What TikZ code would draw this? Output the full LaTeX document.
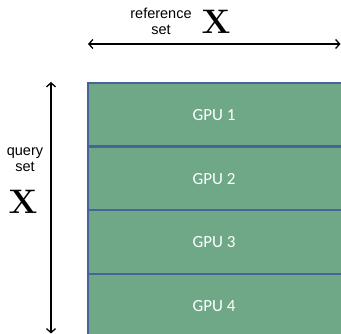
\documentclass[tikz,border=0pt]{standalone}
\usepackage[no-math]{fontspec}
\setmainfont{Liberation Sans}
\newfontfamily\gpufont{Carlito}
\newfontfamily\lmfont{Latin Modern Roman}
\usetikzlibrary{arrows.meta}
\definecolor{gpugreen}{RGB}{111,168,134}
\definecolor{gpublue}{RGB}{70,100,155}
\tikzset{
  gpubox/.style={draw=gpublue, line width=1.6pt, fill=gpugreen, minimum width=262pt, minimum height=63.5pt, anchor=north west, inner sep=0pt},
  gpulabel/.style={text=white, font=\gpufont\fontsize{17}{18}\selectfont},
  dimarrow/.style={line width=1.3pt, {Straight Barb[length=4pt,width=9pt]}-{Straight Barb[length=4pt,width=9pt]}},
  smalltext/.style={font=\fontsize{14.5}{16}\selectfont, align=center, inner sep=0pt},
  bigx/.style={font=\lmfont\bfseries\fontsize{34}{34}\selectfont, inner sep=0pt}
}
\begin{document}
\begin{tikzpicture}[x=1pt,y=-1pt]
\useasboundingbox (0,0) rectangle (341,334);
\begin{scope}
\clip (0,0) rectangle (341,334);
\node[gpubox] (g1) at (87,82) {};
\node[gpubox] (g2) at (87,146) {};
\node[gpubox] (g3) at (87,209.5) {};
\node[gpubox] (g4) at (87,273) {};
\end{scope}
\node[gpulabel] (l1) at (214,115) {GPU 1};
\node[gpulabel] (l2) at (214,179) {GPU 2};
\node[gpulabel] (l3) at (214,242) {GPU 3};
\node[gpulabel] (l4) at (214,306) {GPU 4};
\coordinate (hl) at (88,44);
\coordinate (hr) at (340.5,44);
\draw[dimarrow] (hl) -- (hr);
\coordinate (vt) at (51,82);
\coordinate (vb) at (51,333.5);
\draw[dimarrow] (vt) -- (vb);
\node[smalltext] (reft) at (161,21) {reference\\set};
\node[bigx] (refx) at (216,22) {X};
\node[smalltext] (qt) at (25,160) {query\\set};
\node[bigx] (qx) at (23,202) {X};
\end{tikzpicture}
\end{document}
